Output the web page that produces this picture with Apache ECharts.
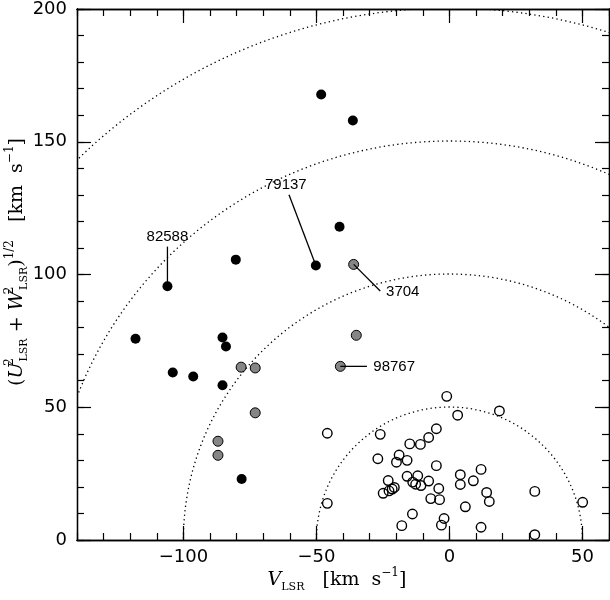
<!DOCTYPE html>
<html>
<head>
<meta charset="utf-8">
<script src="https://cdn.jsdelivr.net/npm/echarts@6/dist/echarts.min.js"></script>
<style>
html, body { margin: 0; padding: 0; background: #fff; }
#chart { width: 610px; height: 600px; }
</style>
</head>
<body>
<div id="chart"></div>
<script>
// Toomre diagram: V_LSR vs sqrt(U^2 + W^2), km/s
var thinDisk = [
    [-1.0, 54.1], [3.1, 47.0], [18.8, 48.6], [-45.9, 40.2], [-26.0, 39.8],
    [-4.9, 41.9], [-7.8, 38.6], [-14.9, 36.2], [-10.9, 36.0], [-26.9, 30.6],
    [-18.9, 32.0], [-19.9, 29.3], [-15.9, 30.0], [-4.9, 28.0], [11.9, 26.6],
    [4.1, 24.6], [4.1, 20.9], [9.0, 22.3], [-23.0, 22.4], [-15.9, 24.0],
    [-11.9, 24.2], [-13.8, 21.8], [-12.7, 21.0], [-10.7, 20.5], [-7.8, 22.2],
    [-24.9, 17.6], [-22.7, 18.5], [-21.5, 19.2], [-20.7, 19.8], [-4.0, 19.4],
    [-7.0, 15.6], [-3.7, 15.2], [14.0, 17.9], [15.0, 14.5], [32.1, 18.3],
    [50.1, 14.2], [-45.9, 13.8], [6.0, 12.5], [-13.9, 9.8], [-17.9, 5.4],
    [-2.0, 8.1], [-3.0, 5.6], [11.9, 4.8], [32.1, 2.0]
];
var thickDisk = [
    [-36.0, 103.8], [-35.0, 77.1], [-41.0, 65.4], [-78.3, 65.1], [-73.0, 64.8],
    [-73.0, 47.9], [-87.0, 37.2], [-87.0, 31.9]
];
var haloStars = [
    [-48.2, 167.8], [-36.3, 158.0], [-41.3, 118.0], [-80.3, 105.6], [-50.2, 103.4],
    [-106.0, 95.6], [-118.0, 75.8], [-85.3, 76.3], [-84.0, 72.9], [-104.0, 63.1],
    [-96.3, 61.6], [-85.3, 58.3], [-78.1, 23.0]
];
var circleRadii = [50, 100, 150, 200];
var xMajorTicks = [-100, -50, 0, 50];
var yMajorTicks = [0, 50, 100, 150, 200];

// labelled stars
var labelNames = ['82588', '79137', '3704', '98767'];
var labelStars = [[-106.0, 95.6], [-50.2, 103.4], [-36.0, 103.8], [-41.0, 65.4]];
var labelLineEnds = [[-106.0, 110.5], [-60.3, 130.0], [-26.0, 93.8], [-31.0, 65.4]];
var labelTextAt = [[-106.0, 114.0], [-61.5, 133.6], [-23.8, 93.6], [-28.6, 65.4]];

var myChart = echarts.init(document.getElementById('chart'));

function axisStyle() {
    return { onZero: false, lineStyle: { color: '#000', width: 1.3 } };
}
function minusLabel(v) {
    return v < 0 ? '\u2212' + Math.abs(v) : String(v);
}

function makeX(pos, major, showLabel) {
    var ax = {
        type: 'value', position: pos, min: -140, max: 60, interval: 10,
        axisLine: axisStyle(),
        splitLine: { show: false },
        axisTick: { inside: true, length: 7, lineStyle: { color: '#000', width: 1.2 } },
        axisLabel: { show: false }
    };
    if (major) {
        ax.axisTick = { inside: true, length: 14, customValues: xMajorTicks, lineStyle: { color: '#000', width: 1.2 } };
    }
    if (showLabel) {
        ax.axisLabel = {
            show: true, customValues: xMajorTicks, margin: 8,
            color: '#000', fontFamily: 'DejaVu Sans', fontSize: 18,
            formatter: minusLabel
        };
    }
    return ax;
}
function makeY(pos, major, showLabel) {
    var ax = {
        type: 'value', position: pos, min: 0, max: 200, interval: 10,
        axisLine: axisStyle(),
        splitLine: { show: false },
        axisTick: { inside: true, length: 7, lineStyle: { color: '#000', width: 1.2 } },
        axisLabel: { show: false }
    };
    if (major) {
        ax.axisTick = { inside: true, length: 14, customValues: yMajorTicks, lineStyle: { color: '#000', width: 1.2 } };
    }
    if (showLabel) {
        ax.axisLabel = {
            show: true, customValues: yMajorTicks, margin: 10,
            color: '#000', fontFamily: 'DejaVu Sans', fontSize: 18
        };
    }
    return ax;
}

var titleRich = {
    it: { fontFamily: 'DejaVu Serif', fontStyle: 'italic', fontSize: 19, lineHeight: 26 },
    sup: { fontFamily: 'DejaVu Serif', fontSize: 12, lineHeight: 12, verticalAlign: 'top' },
    sub: { fontFamily: 'DejaVu Serif', fontSize: 11, lineHeight: 12, verticalAlign: 'bottom' },
    s2: { fontFamily: 'DejaVu Serif', fontSize: 12, lineHeight: 12, verticalAlign: 'top', width: 1 }
};

var option = {
    animation: false,
    grid: { left: 77, right: 1, top: 8, bottom: 60, containLabel: false },
    xAxis: [makeX('bottom', false, true), makeX('bottom', true, false),
            makeX('top', false, false), makeX('top', true, false)],
    yAxis: [makeY('left', false, true), makeY('left', true, false),
            makeY('right', false, false), makeY('right', true, false)],
    graphic: [
        {
            type: 'text', x: 337, y: 580, silent: true,
            style: {
                text: '{it|V}{sub|LSR}   [km  s{sup|\u22121}]',
                rich: titleRich,
                font: '19px "DejaVu Serif"', fill: '#000',
                textAlign: 'center', textVerticalAlign: 'middle'
            }
        },
        {
            type: 'text', x: 17, y: 262, rotation: Math.PI / 2, silent: true,
            style: {
                text: '({it|U}{s2|2}{sub|LSR} + {it|W}{s2|2}{sub|LSR}){sup|1/2}   [km  s{sup|\u22121}]',
                rich: titleRich,
                font: '19px "DejaVu Serif"', fill: '#000',
                textAlign: 'center', textVerticalAlign: 'middle'
            }
        }
    ],
    series: [
        {
            // velocity circles
            type: 'custom', silent: true, clip: true, z: 1,
            data: circleRadii.map(function (r) { return [0, 0, r]; }),
            renderItem: function (params, api) {
                var c = api.coord([api.value(0), api.value(1)]);
                var r = api.size([api.value(2), 0])[0];
                return {
                    type: 'circle',
                    shape: { cx: c[0], cy: c[1], r: r },
                    style: { fill: 'none', stroke: '#000', lineWidth: 1.3, lineDash: [1.3, 3.2] }
                };
            }
        },
        {
            type: 'scatter', silent: true, z: 3,
            data: thinDisk, symbol: 'circle', symbolSize: 9.5,
            itemStyle: { color: 'transparent', borderColor: '#000', borderWidth: 1.4, opacity: 1 }
        },
        {
            type: 'scatter', silent: true, z: 3,
            data: thickDisk, symbol: 'circle', symbolSize: 10,
            itemStyle: { color: '#858585', borderColor: '#000', borderWidth: 1, opacity: 1 }
        },
        {
            type: 'scatter', silent: true, z: 3,
            data: haloStars, symbol: 'circle', symbolSize: 10,
            itemStyle: { color: '#000', opacity: 1 }
        },
        {
            // star ids with leader lines
            type: 'custom', silent: true, z: 4,
            data: labelStars,
            renderItem: function (params, api) {
                var i = params.dataIndex;
                var p = api.coord(labelStars[i]);
                var e = api.coord(labelLineEnds[i]);
                var t = api.coord(labelTextAt[i]);
                var sideways = labelTextAt[i][0] > labelLineEnds[i][0] + 1;
                return {
                    type: 'group',
                    children: [
                        {
                            type: 'line',
                            shape: { x1: p[0], y1: p[1], x2: e[0], y2: e[1] },
                            style: { stroke: '#000', lineWidth: 1.3 }
                        },
                        {
                            type: 'text', x: t[0], y: t[1],
                            style: {
                                text: labelNames[i], fill: '#000',
                                font: '15px "Liberation Sans"',
                                textAlign: sideways ? 'left' : 'center',
                                textVerticalAlign: 'middle'
                            }
                        }
                    ]
                };
            }
        }
    ]
};
myChart.setOption(option);
</script>
</body>
</html>
